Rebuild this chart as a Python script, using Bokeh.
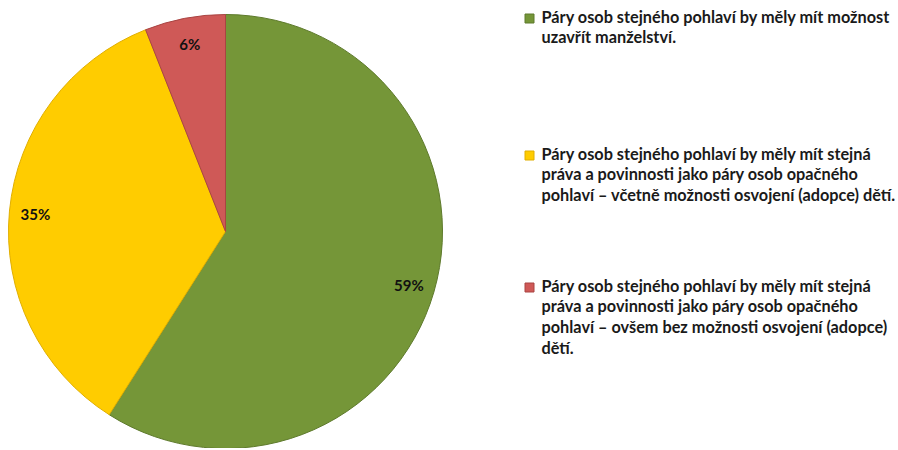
import math
from bokeh.plotting import figure
from bokeh.models import Range1d, ColumnDataSource
from bokeh.core.properties import value
from bokeh.embed import file_html
from bokeh.resources import INLINE

# ---- data ----
categories = [
    "Páry osob stejného pohlaví by měly mít možnost\nuzavřít manželství.",
    "Páry osob stejného pohlaví by měly mít stejná\npráva a povinnosti jako páry osob opačného\npohlaví – včetně možnosti osvojení (adopce) dětí.",
    "Páry osob stejného pohlaví by měly mít stejná\npráva a povinnosti jako páry osob opačného\npohlaví – ovšem bez možnosti osvojení (adopce)\ndětí.",
]
shares = [59, 35, 6]
pct_labels = ["59%", "35%", "6%"]
colors = ["#759638", "#FFCC00", "#CF5957"]
edge_colors = ["#5E7A2C", "#E0AE00", "#A94442"]

W, H = 896, 448
FONT = "Lato"

p = figure(width=W, height=H, output_backend="svg", toolbar_location=None,
           x_range=Range1d(0, W), y_range=Range1d(0, H), min_border=0,
           background_fill_color="white", border_fill_color="white")
p.axis.visible = False
p.grid.visible = False
p.outline_line_color = None

cx, cy, r = 225, H - 231, 217
total = float(sum(shares))
starts, ends, mids = [], [], []
acc = 0.0
for s in shares:
    a0 = math.pi / 2 - 2 * math.pi * acc / total
    acc += s
    a1 = math.pi / 2 - 2 * math.pi * acc / total
    starts.append(a0)
    ends.append(a1)
    mids.append((a0 + a1) / 2)

src = ColumnDataSource(dict(start=starts, end=ends, color=colors, edge=edge_colors))
p.wedge(x=cx, y=cy, radius=r, radius_units="screen", start_angle="start", end_angle="end",
        direction="clock", fill_color="color", line_color="edge", line_width=1, source=src)

lr = 0.88 * r
lx = [cx + lr * math.cos(m) for m in mids]
ly = [cy + lr * math.sin(m) for m in mids]
p.text(x=lx, y=ly, text=pct_labels, text_font=value(FONT), text_font_style="bold",
       text_font_size="15px", text_color="#111111", text_align="center", text_baseline="middle")

# legend
marker_y = [H - 18, H - 155, H - 287]
p.rect(x=[529] * 3, y=marker_y, width=9, height=9, width_units="screen", height_units="screen",
       fill_color=colors, line_color=edge_colors, line_width=1)
p.text(x=[541] * 3, y=[v + 12 for v in marker_y], text=categories, text_font=value(FONT),
       text_font_style="bold", text_font_size="16.3px", text_color="#1a1a1a",
       text_align="left", text_baseline="top", text_line_height=1.1)

open("out.html", "w").write(file_html(p, INLINE))
